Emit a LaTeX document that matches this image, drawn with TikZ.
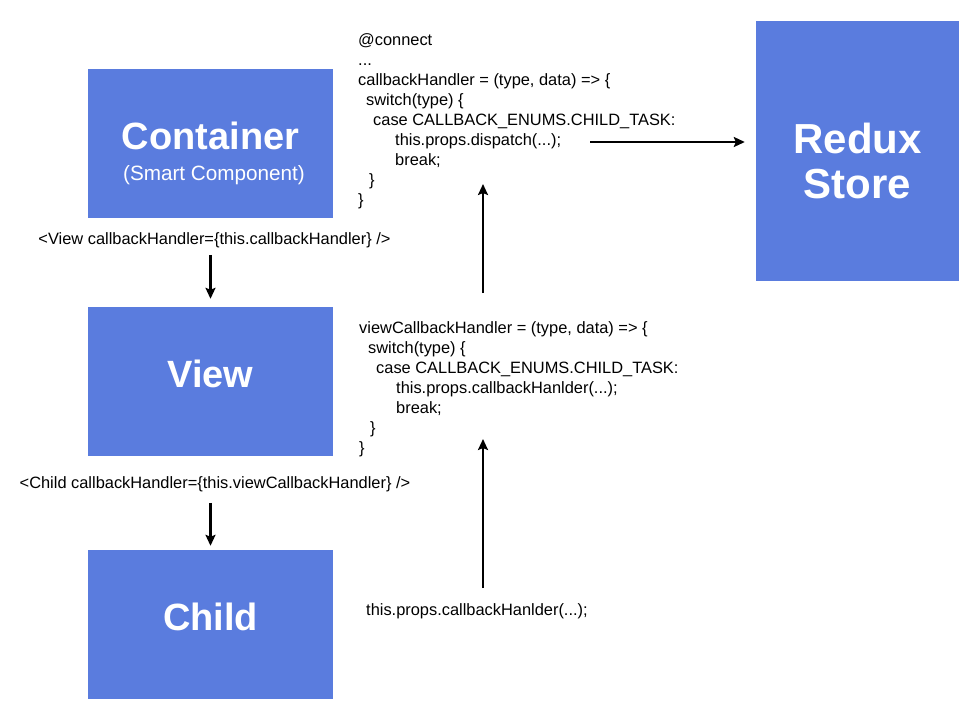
\documentclass[tikz,border=0pt]{standalone}
\usepackage{fontspec}
\setmainfont{Liberation Sans}
\usetikzlibrary{arrows.meta}
\definecolor{compfill}{RGB}{90,124,222}
\tikzset{
  comp/.style={rectangle, fill=compfill, draw=none, inner sep=0pt,
    minimum width=245pt, minimum height=149pt},
  compname/.style={text=white, inner sep=0pt, align=center,
    font=\fontsize{38}{38}\selectfont\bfseries},
  codetext/.style={inner sep=0pt, align=left, anchor=north west,
    font=\fontsize{16.4}{20}\selectfont},
  tagtext/.style={inner sep=0pt, font=\fontsize{16.4}{20}\selectfont},
  flow/.style={-{Stealth[length=11pt,width=10pt,inset=2pt]}, line width=2.2pt}
}
\begin{document}
\begin{tikzpicture}[x=1pt,y=-1pt]
\useasboundingbox (0,0) rectangle (972,716);

%Components
\node(cont) at (210.5,143.5) [comp] {};
\node(contname) at (210.5,135.5) [compname] {Container};
\node(contsub) at (214,175.5) [text=white, inner sep=0pt, font=\fontsize{20.7}{20.7}\selectfont] {(Smart Component)};

\node(view) at (210.5,381.5) [comp] {};
\node(viewname) at (210.5,373.5) [compname] {View};

\node(child) at (210.5,624.5) [comp] {};
\node(childname) at (210.5,616.5) [compname] {Child};

\node(store) at (857.5,151) [comp, minimum width=203pt, minimum height=260pt] {};
\node(storename) at (857.5,160.5) [compname, font=\fontsize{42}{45}\selectfont\bfseries] {Redux\\Store};

%Props passed down
\node(vtag) at (214.5,240) [tagtext] {<View callbackHandler=\{this.callbackHandler\} />};
\node(ctag) at (215,484) [tagtext] {<Child callbackHandler=\{this.viewCallbackHandler\} />};

%Handlers
\node(contcode) at (358,33.5) [codetext] {@connect\\
...\\
callbackHandler = (type, data) => \{\\
\hspace*{8pt}switch(type) \{\\
\hspace*{15pt}case CALLBACK\_ENUMS.CHILD\_TASK:\\
\hspace*{37pt}this.props.dispatch(...);\\
\hspace*{37pt}break;\\
\hspace*{11pt}\}\\
\}};

\node(viewcode) at (359,321.5) [codetext] {viewCallbackHandler = (type, data) => \{\\
\hspace*{9pt}switch(type) \{\\
\hspace*{17pt}case CALLBACK\_ENUMS.CHILD\_TASK:\\
\hspace*{37pt}this.props.callbackHanlder(...);\\
\hspace*{37pt}break;\\
\hspace*{11pt}\}\\
\}};

\node(childcode) at (366,615.5) [tagtext, anchor=base west] {this.props.callbackHanlder(...);};

\coordinate(dispout) at (590,142);
\coordinate(upa) at (483,293);
\coordinate(upb) at (483,184);
\coordinate(upc) at (483,588);
\coordinate(upd) at (483,439);

\draw[flow, shorten <=7pt, shorten >=8pt] (vtag.south -| view.north) -- (view.north);
\draw[flow, shorten <=11pt, shorten >=4pt] (ctag.south -| child.north) -- (child.north);
\draw[flow] (upc) -- (upd);
\draw[flow] (upa) -- (upb);
\draw[flow, shorten >=11pt] (dispout) -- (dispout -| store.west);
\end{tikzpicture}
\end{document}
